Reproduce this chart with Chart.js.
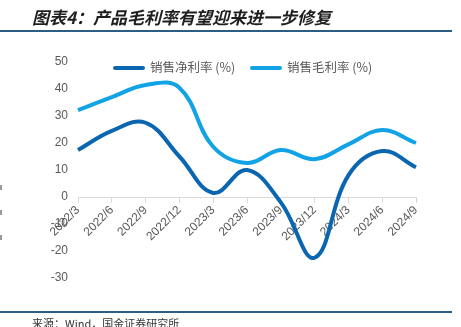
<!DOCTYPE html>
<html>
<head>
<meta charset="utf-8">
<script src="https://cdn.jsdelivr.net/npm/chart.js@4"></script>
<style>
  html, body { margin: 0; padding: 0; background: #fff; }
  #wrap { position: relative; width: 461px; height: 327px; overflow: hidden; }
  #myChart { position: absolute; left: 0; top: 0; }
  .title { position: absolute; left: 32px; top: 4px; font: italic bold 17px "Noto Sans CJK SC", sans-serif; color: #1e1e1e; white-space: nowrap; }
  .rule { position: absolute; left: 0; width: 452px; height: 2px; background: #2b5d86; }
  .source { position: absolute; left: 32px; top: 315px; font: 11px "Noto Sans CJK SC", sans-serif; color: #333; white-space: nowrap; }
  .legend { position: absolute; top: 57px; font: 12.5px "Noto Sans CJK SC", sans-serif; color: #595959; white-space: nowrap; }
  .legend span { display: inline-block; width: 32px; height: 4px; border-radius: 2px; vertical-align: middle; margin-right: 5px; position: relative; top: -1px; }
  .edge { position: absolute; left: 0; width: 2px; height: 5px; background: #999; }
</style>
</head>
<body>
<div id="wrap">
  <canvas id="myChart" width="461" height="327"></canvas>
  <div class="title">图表4：产品毛利率有望迎来进一步修复</div>
  <div class="rule" style="top:30px"></div>
  <div class="legend" style="left:113px"><span style="background:#0a66b0"></span>销售净利率 (%)</div>
  <div class="legend" style="left:250px"><span style="background:#12a3e6"></span>销售毛利率 (%)</div>
  <div class="edge" style="top:185px"></div>
  <div class="edge" style="top:210px"></div>
  <div class="edge" style="top:235px"></div>
  <div class="rule" style="top:311px"></div>
  <div class="source">来源：Wind，国金证券研究所</div>
</div>
<script>
// 季度
var quarters = ['2022/3', '2022/6', '2022/9', '2022/12', '2023/3', '2023/6', '2023/9', '2023/12', '2024/3', '2024/6', '2024/9'];
// 销售净利率 (%)
var netMargin = [17.4, 24.5, 27.5, 15, 1.5, 10, -2, -22.5, 8, 17, 11];
// 销售毛利率 (%)
var grossMargin = [32.2, 37, 41.5, 40.5, 18.6, 12.6, 17.4, 14, 19.5, 24.8, 20];

var yTicks = { min: -30, max: 50, step: 10 };

function renderChart() {
  const ctx = document.getElementById('myChart');

  const config = {
    type: 'line',
    data: {
      labels: quarters,
      datasets: [
        {
          label: '销售净利率 (%)',
          data: netMargin,
          borderColor: '#0a66b0',
          borderWidth: 4,
          pointRadius: 0,
          tension: 0.4
        },
        {
          label: '销售毛利率 (%)',
          data: grossMargin,
          borderColor: '#12a3e6',
          borderWidth: 4,
          pointRadius: 0,
          tension: 0.4
        }
      ]
    },
    options: {
      responsive: false,
      animation: false,
      layout: {
        padding: { left: 48, right: 45, top: 62, bottom: 49 }
      },
      scales: {
        x: {
          position: { y: 0 },
          offset: false,
          afterFit: function (axis) { axis.height = 0; },
          grid: {
            display: true,
            drawOnChartArea: false,
            drawTicks: true,
            tickLength: 5,
            color: '#d9d9d9'
          },
          border: { color: '#d9d9d9', width: 1 },
          ticks: {
            color: '#595959',
            font: { family: 'Liberation Sans', size: 12 },
            minRotation: 45,
            maxRotation: 45,
            autoSkip: false,
            padding: 1
          }
        },
        y: {
          min: yTicks.min,
          max: yTicks.max,
          afterFit: function (axis) { axis.width = 30; },
          grid: { display: false, drawTicks: false },
          border: { display: false },
          ticks: {
            stepSize: yTicks.step,
            color: '#595959',
            font: { family: 'Liberation Sans', size: 12 },
            padding: 10
          }
        }
      },
      plugins: {
        legend: { display: false },
        title: { display: false },
        tooltip: { enabled: false }
      }
    }
  };

  new Chart(ctx, config);
}

renderChart();
</script>
</body>
</html>
